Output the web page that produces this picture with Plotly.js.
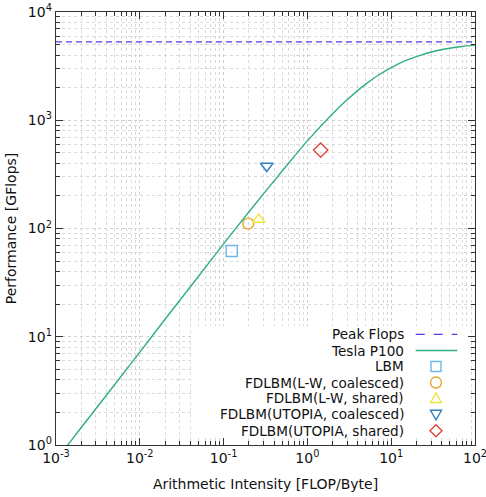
<!DOCTYPE html>
<html>
<head>
<meta charset="utf-8">
<script src="https://cdn.plot.ly/plotly-3.0.1.min.js"></script>
<style>html,body{margin:0;padding:0;background:#fff;}#chart{width:486px;height:497px;}</style>
</head>
<body>
<div id="chart"></div>
<script>
// Peak flops (horizontal line)
const peakX = [0.001, 100];
const peakY = [5300, 5300];
// Tesla P100 roofline curve
const rooflineX = [0.001, 0.002, 0.005, 0.01, 0.02, 0.05, 0.1, 0.2, 0.5, 1, 2, 3, 5, 7, 10, 15, 20, 30, 50, 70, 100];
const rooflineY = [0.72, 1.45, 3.6, 7.2, 14.5, 36, 72, 142, 340, 645, 1150, 1553, 2170, 2605, 3070, 3575, 3870, 4270, 4620, 4803, 4940];
// Measured kernels
const kernelNames = ["LBM", "FDLBM(L-W, coalesced)", "FDLBM(L-W, shared)", "FDLBM(UTOPIA, coalesced)", "FDLBM(UTOPIA, shared)"];
const kernelX = [0.125, 0.197, 0.262, 0.327, 1.44];
const kernelY = [62, 111, 121, 378, 530];
const kernelSymbols = ["square-open", "circle-open", "triangle-up-open", "triangle-down-open", "diamond-open"];
const kernelColors = ["#6cb8ea", "#e8a52a", "#f0e442", "#2f7fc6", "#e0473a"];
const lineNames = ["Peak Flops", "Tesla P100"];
const lineColors = ["#4b3ce6", "#2fae86"];
// tick labels
const xTickVals = [0.001, 0.01, 0.1, 1, 10, 100];
const xTickText = ["10<sup>-3</sup>", "10<sup>-2</sup>", "10<sup>-1</sup>", "10<sup>0</sup>", "10<sup>1</sup>", "10<sup>2</sup>"];
const yTickVals = [1, 10, 100, 1000, 10000];
const yTickText = ["10<sup>0</sup>", "10<sup>1</sup>", "10<sup>2</sup>", "10<sup>3</sup>", "10<sup>4</sup>"];

const FONT = "DejaVu Sans, sans-serif";
const traces = [];
traces.push({x: peakX, y: peakY, mode: "lines", name: lineNames[0],
  line: {color: lineColors[0], width: 1.3, dash: "6px,4px"}, showlegend: false});
traces.push({x: rooflineX, y: rooflineY, mode: "lines", name: lineNames[1],
  line: {color: lineColors[1], width: 1.4, shape: "spline"}, showlegend: false});
for (let i = 0; i < kernelNames.length; i++) {
  traces.push({x: [kernelX[i]], y: [kernelY[i]], mode: "markers", name: kernelNames[i],
    marker: {symbol: kernelSymbols[i], size: 11, color: kernelColors[i], line: {width: 1.4, color: kernelColors[i]}},
    showlegend: false, cliponaxis: false});
}

// custom legend (text right, symbol at right like gnuplot)
const legendLabels = lineNames.concat(kernelNames);
const rowY = [0.2557, 0.2182, 0.1813, 0.1443, 0.1074, 0.0709, 0.0330];
const annotations = [];
const shapes = [];
// opaque key background hiding the grid (kept clear of the inside ticks)
shapes.push({type: "rect", xref: "paper", yref: "paper", x0: 0.322, x1: 0.981, y0: 0.0185, y1: 0.2748,
  fillcolor: "#ffffff", line: {width: 0}, layer: "above"});
for (let i = 0; i < legendLabels.length; i++) {
  annotations.push({xref: "paper", yref: "paper", x: 0.8346, y: rowY[i], xanchor: "right", yanchor: "middle",
    text: legendLabels[i], showarrow: false, font: {family: FONT, size: 13.6, color: "#111"}});
}
// line samples
shapes.push({type: "line", xref: "paper", yref: "paper", x0: 0.8585, x1: 0.9578, y0: rowY[0], y1: rowY[0],
  line: {color: lineColors[0], width: 1.3, dash: "dash"}});
shapes.push({type: "line", xref: "paper", yref: "paper", x0: 0.8585, x1: 0.9578, y0: rowY[1], y1: rowY[1],
  line: {color: lineColors[1], width: 1.4}});
// symbol samples (pixel sized, anchored in paper coords)
const sx = 0.9069;
const symPaths = [
  "M-5,-5L5,-5L5,5L-5,5Z",
  null,
  "M-5.5,-4L5.5,-4L0,5.5Z",
  "M-5.5,4L5.5,4L0,-5.5Z",
  "M0,-6L6,0L0,6L-6,0Z"
];
for (let k = 0; k < kernelNames.length; k++) {
  const base = {xref: "paper", yref: "paper", xsizemode: "pixel", ysizemode: "pixel",
    xanchor: sx, yanchor: rowY[k + 2], line: {color: kernelColors[k], width: 1.4}};
  if (k === 1) {
    shapes.push(Object.assign({type: "circle", x0: -5.5, x1: 5.5, y0: -5.5, y1: 5.5}, base));
  } else {
    shapes.push(Object.assign({type: "path", path: symPaths[k]}, base));
  }
}

const axisCommon = {
  type: "log", showline: true, linecolor: "#333", linewidth: 1.3, mirror: "allticks",
  ticks: "inside", ticklen: 7, tickcolor: "#333", tickwidth: 1,
  showgrid: true, gridcolor: "#cfcfcf", griddash: "dot", gridwidth: 1,
  zeroline: false, tickfont: {family: FONT, size: 14, color: "#111"},
  ticklabeloverflow: "allow",
  minor: {dtick: "D1", ticks: "inside", ticklen: 4, tickcolor: "#333", showgrid: true, gridcolor: "#d9d9d9", griddash: "dot", gridwidth: 1}
};
const layout = {
  width: 486, height: 497,
  margin: {l: 56, r: 11, t: 12, b: 52},
  paper_bgcolor: "#fff", plot_bgcolor: "#fff",
  showlegend: false,
  xaxis: Object.assign({}, axisCommon, {range: [-3, 2], tickvals: xTickVals, ticktext: xTickText,
    title: {text: "Arithmetic Intensity [FLOP/Byte]", font: {family: FONT, size: 14, color: "#111"}, standoff: 14}}),
  yaxis: Object.assign({}, axisCommon, {range: [0, 4], tickvals: yTickVals, ticktext: yTickText,
    title: {text: "Performance [GFlops]", font: {family: FONT, size: 14, color: "#111"}, standoff: 8}}),
  annotations: annotations,
  shapes: shapes
};
Plotly.newPlot("chart", traces, layout, {staticPlot: true});
</script>
</body>
</html>
